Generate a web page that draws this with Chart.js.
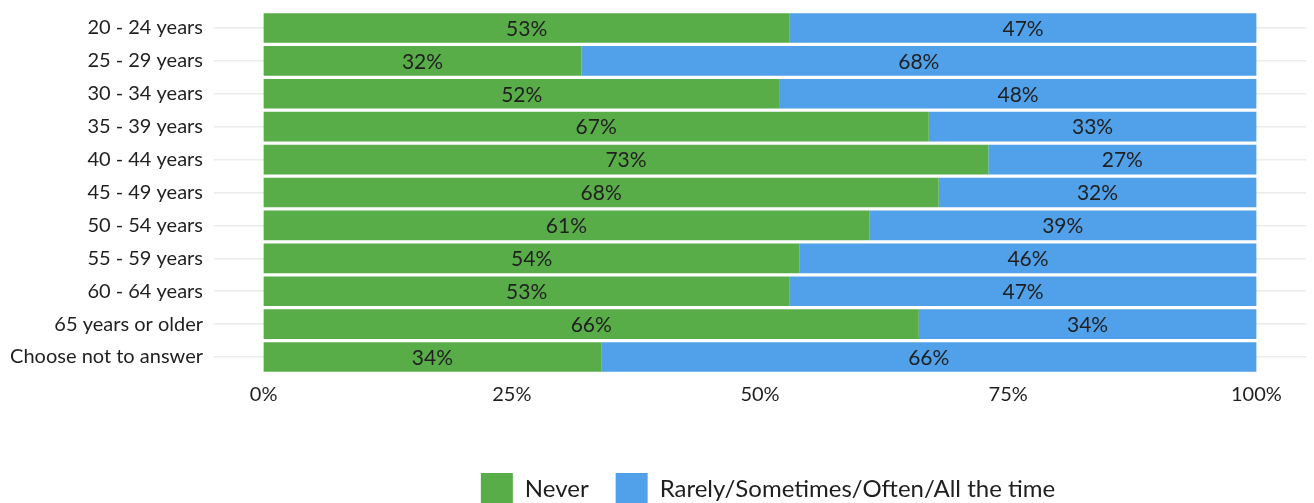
<!DOCTYPE html>
<html>
<head>
<meta charset="utf-8">
<script src="https://cdn.jsdelivr.net/npm/chart.js@4/dist/chart.umd.min.js"></script>
<style>
  html, body { margin: 0; padding: 0; background: #ffffff; overflow: hidden; }
  #wrap { width: 1314px; height: 520px; position: relative; }
</style>
</head>
<body>
<div id="wrap"><canvas id="chart"></canvas></div>
<script>
const ageGroups = [
  '20 - 24 years', '25 - 29 years', '30 - 34 years', '35 - 39 years',
  '40 - 44 years', '45 - 49 years', '50 - 54 years', '55 - 59 years',
  '60 - 64 years', '65 years or older', 'Choose not to answer'
];
const neverShare = [53, 32, 52, 67, 73, 68, 61, 54, 53, 66, 34];
const sometimesShare = [47, 68, 48, 33, 27, 32, 39, 46, 47, 34, 66];
const seriesNames = ['Never', 'Rarely/Sometimes/Often/All the time'];
const percentTicks = [0, 25, 50, 75, 100];

const FONT = 'Lato, "Open Sans", sans-serif';
const TEXT = '#1f1f1f';

// Writes each segment's share in the middle of its bar piece
const segmentLabels = {
  id: 'segmentLabels',
  afterDatasetsDraw(chart) {
    const ctx = chart.ctx;
    ctx.save();
    ctx.font = '21px ' + FONT;
    ctx.fillStyle = TEXT;
    ctx.textAlign = 'center';
    ctx.textBaseline = 'middle';
    chart.data.datasets.forEach((ds, di) => {
      const meta = chart.getDatasetMeta(di);
      meta.data.forEach((bar, i) => {
        const p = bar.getProps(['x', 'y', 'base'], true);
        ctx.fillText(ds.data[i] + '%', (p.x + p.base) / 2, p.y + 1);
      });
    });
    ctx.restore();
  }
};

// Nudges the legend row a little to the right of the plot centre
const legendNudge = {
  id: 'legendNudge',
  afterLayout(chart) {
    if (chart.legend) {
      chart.legend.left += 8;
      chart.legend.right += 8;
    }
  }
};

new Chart(document.getElementById('chart'), {
  type: 'bar',
  data: {
    labels: ageGroups,
    datasets: [
      { label: seriesNames[0], data: neverShare, backgroundColor: '#59ad48', borderWidth: 0 },
      { label: seriesNames[1], data: sometimesShare, backgroundColor: '#50a1e9', borderWidth: 0 }
    ]
  },
  options: {
    indexAxis: 'y',
    responsive: true,
    maintainAspectRatio: false,
    animation: false,
    barPercentage: 0.9,
    categoryPercentage: 1,
    layout: { padding: { top: 11.5, right: 8, bottom: 5, left: 0 } },
    scales: {
      x: {
        stacked: true,
        min: -5,
        max: 105,
        afterBuildTicks(scale) { scale.ticks = percentTicks.map(v => ({ value: v })); },
        afterFit(scale) { scale.height = 72.5; },
        grid: { display: false, drawTicks: false },
        border: { display: false },
        ticks: {
          padding: 9.5,
          color: TEXT,
          font: { family: FONT, size: 20 },
          callback: v => v + '%',
          maxRotation: 0
        }
      },
      y: {
        stacked: true,
        afterFit(scale) {
          scale.width = 214;
          scale.paddingTop = 0;
          scale.paddingBottom = 0;
        },
        grid: { offset: false, drawTicks: false, color: '#ebebeb', lineWidth: 1.5 },
        border: { display: false },
        ticks: {
          padding: 11,
          color: TEXT,
          font: { family: FONT, size: 20 },
          autoSkip: false
        }
      }
    },
    plugins: {
      tooltip: { enabled: false },
      legend: {
        position: 'bottom',
        fullSize: false,
        labels: {
          boxWidth: 32,
          boxHeight: 32,
          padding: 27,
          color: TEXT,
          font: { family: FONT, size: 24 }
        }
      }
    }
  },
  plugins: [segmentLabels, legendNudge]
});
</script>
</body>
</html>
